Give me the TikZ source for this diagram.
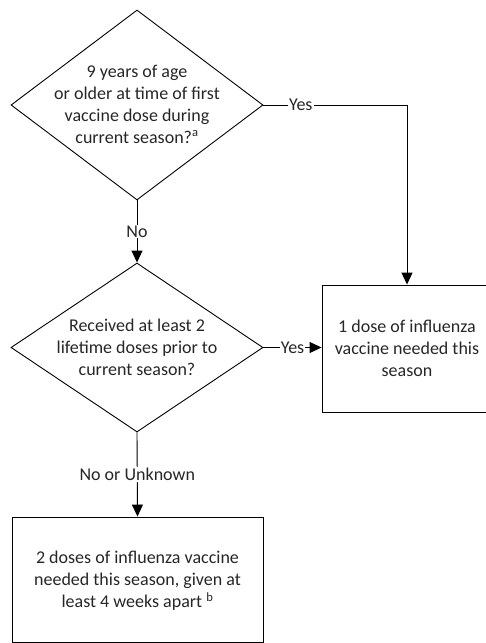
\documentclass[tikz,border=0pt]{standalone}
\usepackage{fontspec}
\setmainfont{Carlito}
\usetikzlibrary{shapes.geometric,arrows.meta}
\begin{document}
\begin{tikzpicture}[x=1pt,y=-1pt,
  line width=0.9pt,
  every node/.style={font=\fontsize{18}{22}\selectfont,text=black!85},
  decision/.style={draw,diamond,inner sep=0pt,minimum width=252pt,minimum height=190pt},
  outcome/.style={draw,rectangle,inner sep=0pt},
  txt/.style={align=center,inner sep=0pt},
  lbl/.style={fill=white,inner sep=1pt},
  arr/.style={-{Triangle[length=12pt,width=11pt]}}
]
\useasboundingbox (0,0) rectangle (486,643);
\node[decision] (d1) at (137,105) {};
\node[txt] (t1) at (137,104) {9 years of age\\or older at time of first\\vaccine dose during\\current season?\textsuperscript{a}};
\node[decision,minimum height=169pt] (d2) at (137,347.5) {};
\node[txt] (t2) at (137,347) {Received at least 2\\lifetime doses prior to\\current season?};
\node[outcome,minimum width=170pt,minimum height=127pt] (b1) at (407,348.5) {};
\node[txt] (tb1) at (407,348) {1 dose of influenza\\vaccine needed this\\season};
\node[outcome,minimum width=251pt,minimum height=125pt] (b2) at (137.5,579.5) {};
\node[txt] (tb2) at (137.5,581) {2 doses of influenza vaccine\\needed this season, given at\\least 4 weeks apart \textsuperscript{b}};
\coordinate (c1) at (b1.north |- d1.east);
\draw (d1.east) -- node[lbl,pos=0.26]{Yes} (c1);
\draw[arr] (c1) -- (b1.north);
\draw[arr] (d1.south) -- node[lbl,pos=0.5]{No} (d2.north);
\draw[arr] (d2.east) -- node[lbl,pos=0.5]{Yes} (b1.west |- d2.east);
\draw[arr] (d2.south) -- node[lbl,pos=0.5]{No or Unknown} (b2.north);
\end{tikzpicture}
\end{document}
